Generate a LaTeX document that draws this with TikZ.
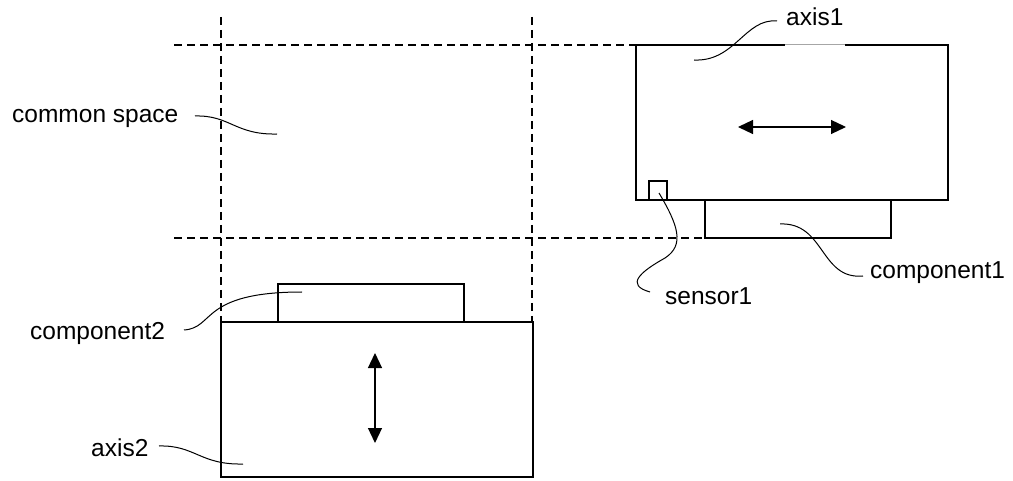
\documentclass[tikz,border=0pt]{standalone}
\usepackage{fontspec}
\setmainfont{Liberation Sans}
\usetikzlibrary{arrows.meta}
\begin{document}
\begin{tikzpicture}[x=1pt,y=-1pt,
  box/.style={draw, line width=2.1pt, rectangle, inner sep=0pt, fill=white},
  guide/.style={draw, line width=1.5pt, dash pattern=on 8pt off 5pt},
  lbl/.style={inner sep=0pt, font=\fontsize{24.5}{29}\selectfont},
  leader/.style={draw, line width=1pt},
  motion/.style={draw, line width=1.2pt, {Triangle[length=15pt,width=14pt]}-{Triangle[length=15pt,width=14pt]}}]
\useasboundingbox (0,0) rectangle (1013,481);

% guide (dashed) lines
\coordinate (gv1t) at (221,17);
\coordinate (gv1b) at (221,322);
\coordinate (gv2t) at (532,17);
\coordinate (gv2b) at (532,322);
\coordinate (gh1l) at (174,45);
\coordinate (gh1r) at (636,45);
\coordinate (gh2l) at (174,238);
\coordinate (gh2r) at (705,238);
\draw[guide] (gv1t) -- (gv1b);
\draw[guide] (gv2t) -- (gv2b);
\draw[guide] (gh1l) -- (gh1r);
\draw[guide] (gh2l) -- (gh2r);

% boxes
\node[box, minimum width=312pt, minimum height=155pt] (axis1) at (792,122.5) {};
\node[box, minimum width=186pt, minimum height=38pt] (comp1) at (798,219) {};
\node[box, minimum width=18pt, minimum height=19pt] (sensor1) at (658,190.5) {};
\node[box, minimum width=312pt, minimum height=155pt] (axis2) at (377,399.5) {};
\node[box, minimum width=186pt, minimum height=38pt] (comp2) at (371,303) {};

% light segment on top edge of axis1
\coordinate (ga) at (785,45);
\coordinate (gb) at (845,45);
\draw[white, line width=2.3pt] (ga) -- (gb);
\draw[black!35, line width=1pt] (ga) -- (gb);

% motion arrows
\coordinate (h1) at (738,127);
\coordinate (h2) at (846,127);
\draw[motion] (h1) -- (h2);
\coordinate (v1) at (375,353);
\coordinate (v2) at (375,443);
\draw[motion] (v1) -- (v2);

% labels
\node[lbl, anchor=base west] (axis1lbl) at (786,26) {axis1};
\node[lbl, anchor=base west] (comp1lbl) at (870,279) {component1};
\node[lbl, anchor=base west] (sens1lbl) at (665,305) {sensor1};
\node[lbl, anchor=base west] (commonlbl) at (12,123) {common space};
\node[lbl, anchor=base west] (comp2lbl) at (30,340) {component2};
\node[lbl, anchor=base west] (axis2lbl) at (91,456) {axis2};

% leaders
\coordinate (la1s) at (777,21);
\coordinate (la1e) at (694,60);
\draw[leader] (la1s) .. controls (745,18) and (735,62) .. (la1e);

\coordinate (lc1s) at (863,276);
\coordinate (lc1e) at (780,224);
\draw[leader] (lc1s) .. controls (820,280) and (825,222) .. (lc1e);

\coordinate (ls1s) at (650,292);
\coordinate (ls1m) at (665,258);
\coordinate (ls1e) at (659,193);
\draw[leader] (ls1s) .. controls (625,285) and (640,272) .. (ls1m)
  .. controls (685,245) and (678,225) .. (ls1e);

\coordinate (lcss) at (195,116);
\coordinate (lcse) at (277,134);
\draw[leader] (lcss) .. controls (230,115) and (235,135) .. (lcse);

\coordinate (lc2s) at (184,330);
\coordinate (lc2e) at (302,292);
\draw[leader] (lc2s) .. controls (215,328) and (200,292) .. (lc2e);

\coordinate (la2s) at (159,446);
\coordinate (la2e) at (243,464);
\draw[leader] (la2s) .. controls (195,445) and (200,465) .. (la2e);
\end{tikzpicture}
\end{document}
